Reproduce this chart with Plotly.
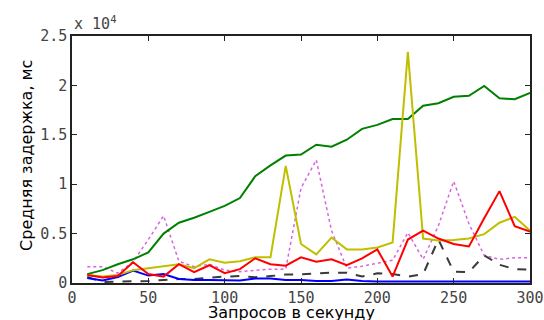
import plotly.graph_objects as go

x_vals = [10, 20, 30, 40, 50, 60, 70, 80, 90, 100, 110, 120, 130, 140, 150,
          160, 170, 180, 190, 200, 210, 220, 230, 240, 250, 260, 270, 280, 290, 300]

green = [900, 1300, 1900, 2400, 3100, 5000, 6100, 6600, 7200, 7800, 8600, 10800, 11900, 12900, 13000,
         14000, 13800, 14500, 15600, 16000, 16600, 16600, 17950, 18200, 18850, 18950, 19950, 18700, 18600, 19250]
yellow = [800, 650, 800, 1300, 1500, 1700, 1900, 1500, 2400, 2050, 2200, 2600, 2600, 11850, 3950,
          2900, 4600, 3400, 3400, 3600, 4100, 23400, 4500, 4300, 4350, 4500, 4950, 6100, 6700, 5300]
red = [800, 550, 700, 2100, 900, 650, 1900, 1100, 1800, 1000, 1400, 2500, 1900, 1750, 2600,
       2150, 2400, 1800, 2500, 3400, 650, 4400, 5300, 4500, 3950, 3700, 6550, 9300, 5750, 5200]
blue = [500, 250, 600, 1250, 750, 900, 400, 300, 300, 250, 250, 450, 450, 300, 300,
        200, 200, 350, 200, 150, 150, 150, 150, 150, 150, 150, 150, 150, 150, 150]
dashed = [600, 100, 150, 150, 200, 300, 400, 400, 550, 650, 700, 580, 700, 850, 880,
          980, 1050, 1050, 650, 980, 900, 650, 900, 4400, 1150, 1100, 2800, 1850, 1400, 1350]
pink = [1650, 1650, 1000, 2150, 4400, 6800, 2200, 1650, 1900, 1300, 1150, 1300, 1400, 1400, 9600,
        12450, 5300, 1500, 1700, 2000, 2300, 5100, 2400, 5800, 10300, 6000, 2800, 2400, 2550, 2550]

y_tickvals = [0, 5000, 10000, 15000, 20000, 25000]
y_ticktext = ["0", "0.5", "1", "1.5", "2", "2.5"]
x_tickvals = [0, 50, 100, 150, 200, 250, 300]

fig = go.Figure()
fig.add_trace(go.Scatter(x=x_vals, y=pink, mode="lines",
                         line=dict(color="#d864e0", width=1.5, dash="dot")))
fig.add_trace(go.Scatter(x=x_vals, y=dashed, mode="lines",
                         line=dict(color="#3a3a3a", width=2, dash="dash")))
fig.add_trace(go.Scatter(x=x_vals, y=blue, mode="lines",
                         line=dict(color="#0000ff", width=2)))
fig.add_trace(go.Scatter(x=x_vals, y=green, mode="lines",
                         line=dict(color="#008000", width=2)))
fig.add_trace(go.Scatter(x=x_vals, y=yellow, mode="lines",
                         line=dict(color="#bfbf00", width=2)))
fig.add_trace(go.Scatter(x=x_vals, y=red, mode="lines",
                         line=dict(color="#ff0000", width=2)))

tick_font = dict(family="DejaVu Sans Mono", size=15, color="#444444")

fig.update_layout(
    width=544, height=320,
    margin=dict(l=72, r=14, t=36, b=37, autoexpand=False),
    paper_bgcolor="white", plot_bgcolor="white",
    showlegend=False,
    xaxis=dict(range=[0, 300], tickvals=x_tickvals, ticks="inside", ticklen=5,
               tickcolor="#222", showline=True, linecolor="#222", linewidth=1.5,
               mirror="ticks", showgrid=False, zeroline=False, tickfont=tick_font,
               automargin=False, ticklabelstandoff=0),
    yaxis=dict(range=[0, 25000], tickvals=y_tickvals, ticktext=y_ticktext,
               ticks="inside", ticklen=5, tickcolor="#222", showline=True,
               linecolor="#222", linewidth=1.5, mirror="ticks", showgrid=False,
               zeroline=False, tickfont=tick_font, automargin=False),
    annotations=[
        dict(text="x 10<sup>4</sup>", xref="paper", yref="paper",
             x=0.0, y=1.0, xanchor="left", yanchor="bottom",
             showarrow=False, yshift=1,
             font=dict(family="DejaVu Sans Mono", size=15, color="#444444")),
        dict(text="Запросов в секунду", xref="paper", yref="paper",
             x=0.48, y=-0.121, xanchor="center", yanchor="middle", showarrow=False,
             font=dict(family="DejaVu Sans", size=16, color="black")),
        dict(text="Средняя задержка, мс", xref="paper", yref="paper",
             x=-0.098, y=0.515, xanchor="center", yanchor="middle", showarrow=False,
             textangle=-90,
             font=dict(family="DejaVu Sans", size=16, color="black")),
    ],
)

fig.write_html("out.html", config={"displayModeBar": False},
               post_script="document.body.style.margin='0';document.body.style.overflow='hidden';")
